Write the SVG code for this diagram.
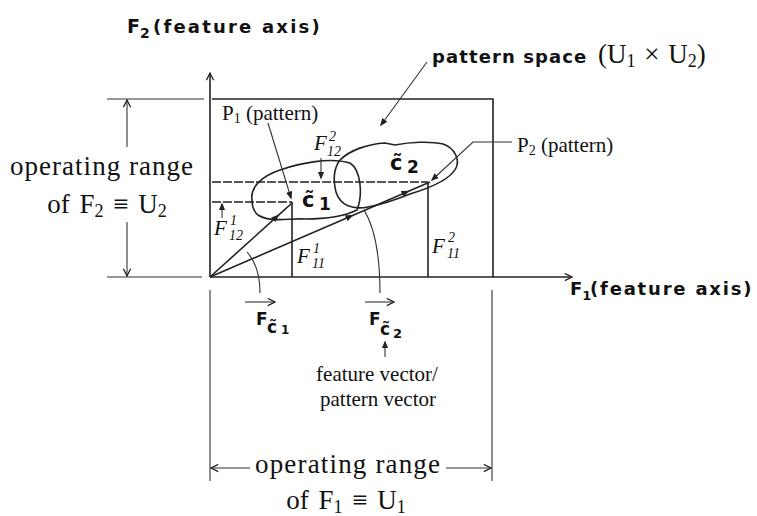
<svg xmlns="http://www.w3.org/2000/svg" width="757" height="516" viewBox="0 0 757 516">
<defs>
<style>
.ln{stroke:#222;stroke-width:1.6;fill:none}
.th{stroke:#333;stroke-width:1.1;fill:none}
.ds{stroke:#222;stroke-width:1.6;fill:none;stroke-dasharray:9 2}
.hand{font-family:"DejaVu Sans",sans-serif;font-weight:bold;fill:#111}
.ser{font-family:"Liberation Serif",serif;fill:#111}
.it{font-family:"Liberation Serif",serif;font-style:italic;fill:#111}
</style>
<marker id="open" viewBox="0 0 10 10" refX="9" refY="5" markerWidth="9" markerHeight="9" markerUnits="userSpaceOnUse" orient="auto-start-reverse">
<path d="M1,1 L9,5 L1,9" fill="none" stroke="#222" stroke-width="1.4"/>
</marker>
<marker id="tri" viewBox="0 0 10 10" refX="8" refY="5" markerWidth="8" markerHeight="8" markerUnits="userSpaceOnUse" orient="auto">
<path d="M0,1 L10,5 L0,9 Z" fill="#222"/>
</marker>
</defs>
<rect width="757" height="516" fill="#fff"/>

<g id="axes">
<line class="ln" x1="210" y1="277" x2="210" y2="73" marker-end="url(#open)"/>
<line class="ln" x1="210" y1="277" x2="572" y2="277" marker-end="url(#open)"/>
<text class="hand" x="127" y="33" font-size="19">F<tspan font-size="14" dy="5">2</tspan></text>
<text class="hand" x="153" y="33" font-size="18" letter-spacing="2.2">(feature axis)</text>
<text class="hand" x="570" y="295" font-size="18">F<tspan font-size="13" dy="5">1</tspan></text>
<text class="hand" x="590" y="295" font-size="18" letter-spacing="1.8">(feature axis)</text>
</g>

<g id="pattern-space">
<polyline class="ln" points="212,99 493,99 493,277"/>
<text class="hand" x="432" y="63" font-size="18" letter-spacing="1.1">pattern space</text>
<text class="ser" x="598" y="63" font-size="27" word-spacing="2">(U<tspan font-size="18" dy="4">1</tspan><tspan dy="-4"> × U</tspan><tspan font-size="18" dy="4">2</tspan><tspan dy="-4">)</tspan></text>
</g>

<g id="range-f2">
<line class="th" x1="107" y1="99" x2="204" y2="99"/>
<line class="th" x1="107" y1="277" x2="202" y2="277"/>
<line class="th" x1="127" y1="147" x2="127" y2="100" marker-end="url(#open)"/>
<line class="th" x1="127" y1="222" x2="127" y2="276" marker-end="url(#open)"/>
<text class="ser" x="10" y="175" font-size="27" textLength="183" lengthAdjust="spacing">operating range</text>
<text class="ser" x="107" y="213" font-size="27" text-anchor="middle" word-spacing="3">of F<tspan font-size="18" dy="4">2</tspan><tspan dy="-4"> ≡ U</tspan><tspan font-size="18" dy="4">2</tspan></text>
</g>

<g id="range-f1">
<line class="th" x1="210" y1="290" x2="210" y2="481"/>
<line class="th" x1="492" y1="290" x2="492" y2="481"/>
<line class="th" x1="250" y1="468" x2="211" y2="468" marker-end="url(#open)"/>
<line class="th" x1="446" y1="468" x2="491" y2="468" marker-end="url(#open)"/>
<text class="ser" x="255" y="473" font-size="27" textLength="185" lengthAdjust="spacing">operating range</text>
<text class="ser" x="346" y="509" font-size="27" text-anchor="middle" word-spacing="3">of F<tspan font-size="18" dy="4">1</tspan><tspan dy="-4"> ≡ U</tspan><tspan font-size="18" dy="4">1</tspan></text>
</g>

<g id="c1">
<path class="ln" d="M252,200 C250,187 262,176 280,170 C300,163 330,157 350,163 C361,170 363,195 357,210 C345,216 325,219 305,219 C290,218 270,223 258,215 C253,211 252,205 252,200 Z"/>
<text class="hand" x="302" y="207" font-size="21">c̃</text>
<text class="hand" x="319" y="210" font-size="17">1</text>
</g>

<g id="c2">
<path class="ln" d="M340,160 C350,150 368,144 385,143 L395,145 C410,142 430,141 443,144 C455,148 460,160 456,168 C450,180 430,188 410,194 C395,200 380,205 368,207 C352,210 340,205 336,192 C333,180 334,168 340,160 Z"/>
<text class="hand" x="390" y="170" font-size="21">c̃</text>
<text class="hand" x="407" y="173" font-size="17">2</text>
</g>

<g id="p1">
<line class="ds" x1="212" y1="202" x2="292" y2="202"/>
<line class="ln" x1="292" y1="202" x2="292" y2="277"/>
<text class="ser" x="222" y="120" font-size="21">P<tspan font-size="14" dy="3">1</tspan><tspan dy="-3"> (pattern)</tspan></text>
</g>

<g id="p2">
<line class="ds" x1="212" y1="182" x2="428" y2="182"/>
<line class="ln" x1="428" y1="182" x2="428" y2="277"/>
<text class="ser" x="517" y="152" font-size="21">P<tspan font-size="14" dy="3">2</tspan><tspan dy="-3"> (pattern)</tspan></text>
</g>

<g id="components">
<text class="it" x="314" y="150" font-size="21">F</text>
<text class="it" x="329" y="141" font-size="14">2</text>
<text class="it" x="327" y="156" font-size="14">12</text>
<text class="it" x="214" y="235" font-size="21">F</text>
<text class="it" x="230" y="225" font-size="14">1</text>
<text class="it" x="229" y="240" font-size="14">12</text>
<text class="it" x="297" y="263" font-size="21">F</text>
<text class="it" x="313" y="253" font-size="14">1</text>
<text class="it" x="312" y="268" font-size="14">11</text>
<text class="it" x="432" y="253" font-size="21">F</text>
<text class="it" x="448" y="242" font-size="14">2</text>
<text class="it" x="447" y="258" font-size="14">11</text>
</g>

<g id="vector-labels">
<line class="th" x1="245" y1="302" x2="275" y2="302" marker-end="url(#open)"/>
<text class="hand" x="256" y="325" font-size="17">F</text>
<text class="hand" x="267" y="333" font-size="17">c̃</text>
<text class="hand" x="281" y="334" font-size="12">1</text>
<line class="th" x1="365" y1="302" x2="394" y2="302" marker-end="url(#open)"/>
<text class="hand" x="369" y="325" font-size="17">F</text>
<text class="hand" x="380" y="335" font-size="17">c̃</text>
<text class="hand" x="393" y="338" font-size="13">2</text>
<text class="ser" x="377" y="381" font-size="21" text-anchor="middle">feature vector/</text>
<text class="ser" x="378" y="406" font-size="21" text-anchor="middle">pattern vector</text>
</g>

<g id="connectors">
<polyline class="ln" points="210,277 278,215.6 292,203" marker-mid="url(#tri)"/>
<polyline class="ln" points="210,277 352,215.7 408,191.5 430,182" marker-mid="url(#tri)"/>
<path class="th" d="M260,293 C260,275 256,262 247,252"/>
<path class="th" d="M380,293 C380,255 375,228 364,210"/>
<line class="th" x1="385" y1="357" x2="385" y2="342" marker-end="url(#tri)"/>
<line class="th" x1="427" y1="62" x2="381" y2="125" marker-end="url(#tri)"/>
<line class="th" x1="268" y1="123" x2="291" y2="198" marker-end="url(#tri)"/>
<polyline class="th" points="512,142 473,142 432,180" marker-end="url(#tri)"/>
<line class="th" x1="321" y1="158" x2="321" y2="178" marker-end="url(#tri)"/>
<line class="th" x1="222" y1="218" x2="222" y2="204" marker-end="url(#tri)"/>
</g>
</svg>
